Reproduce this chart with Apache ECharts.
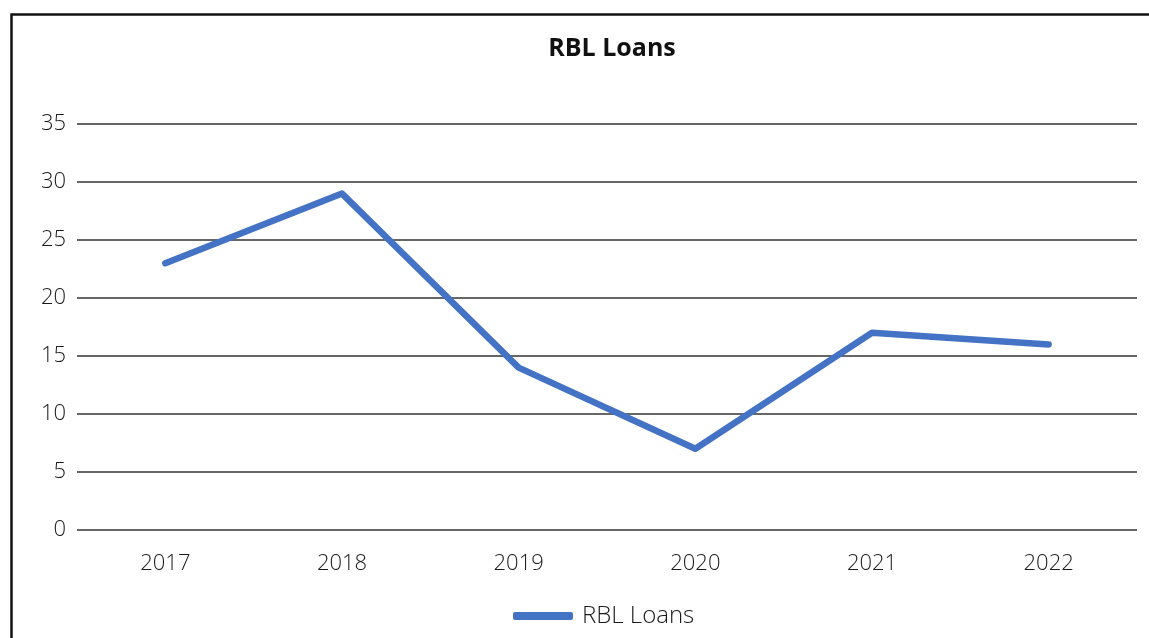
<!DOCTYPE html>
<html><head><meta charset="utf-8">
<script src="https://cdn.jsdelivr.net/npm/echarts@6/dist/echarts.min.js"></script>
<style>html,body{margin:0;padding:0;background:#fff}#c{width:1149px;height:638px}</style>
</head><body><div id="c"></div>
<script>
const categories = ['2017','2018','2019','2020','2021','2022'];
const rblLoans = [23, 29, 14, 7, 17, 16];
const seriesName = 'RBL Loans';
const titleText = 'RBL Loans';

const chart = echarts.init(document.getElementById('c'));
chart.setOption({
  animation: false,
  backgroundColor: '#fff',
  graphic: [{
    type: 'rect', left: 9, top: 12,
    shape: { width: 1200, height: 700 },
    style: { fill: 'none', stroke: '#111', lineWidth: 2.5 },
    silent: true
  }],
  title: {
    text: titleText, left: 607, top: 31, textAlign: 'center',
    textStyle: { fontFamily: 'Open Sans', fontWeight: 'bold', fontSize: 25, color: '#111' }
  },
  legend: {
    data: [seriesName], left: 508, top: 599,
    icon: 'roundRect', itemWidth: 60, itemHeight: 8, itemGap: 10,
    itemStyle: { color: '#4472C4' },
    textStyle: { fontFamily: 'Open Sans', fontWeight: 300, fontSize: 24, color: '#1a1a1a', padding: [0,0,0,4] }
  },
  grid: { left: 77, right: 12, top: 124, bottom: 108, containLabel: false },
  xAxis: {
    type: 'category', data: categories, boundaryGap: true,
    axisLine: { show: false }, axisTick: { show: false },
    axisLabel: { fontFamily: 'Open Sans', fontWeight: 300, fontSize: 22, color: '#1a1a1a', margin: 23 }
  },
  yAxis: {
    type: 'value', min: 0, max: 35, interval: 5,
    axisLine: { show: false }, axisTick: { show: false },
    axisLabel: { fontFamily: 'Open Sans', fontWeight: 300, fontSize: 22, color: '#1a1a1a', margin: 11 },
    splitLine: { lineStyle: { color: '#333', width: 1.5 } }
  },
  series: [{
    name: seriesName, type: 'line', data: rblLoans,
    symbol: 'none',
    lineStyle: { color: '#4472C4', width: 6.5, cap: 'round', join: 'round' },
    itemStyle: { color: '#4472C4' }
  }]
});
</script></body></html>
